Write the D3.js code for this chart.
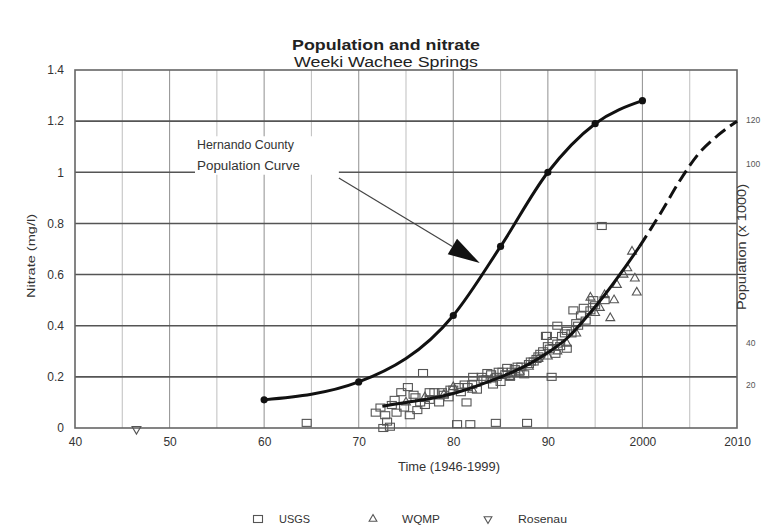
<!DOCTYPE html>
<html><head><meta charset="utf-8">
<script src="https://cdn.jsdelivr.net/npm/d3@7/dist/d3.min.js"></script>
<style>
body{margin:0;background:#fff;}
svg{display:block;font-family:"Liberation Sans",Arial,sans-serif;}
</style></head>
<body><svg id="c" width="764" height="530"></svg>
<script>
// ---------- data ----------
const xTicks = [40, 50, 60, 70, 80, 90, 100, 110];
const xTickLabels = ["40", "50", "60", "70", "80", "90", "2000", "2010"];
const yTicks = [0, 0.2, 0.4, 0.6, 0.8, 1, 1.2, 1.4];
const popTicks = [20, 40, 100, 120];
const popTickNitrateEq = [0.17, 0.335, 1.035, 1.205];

// Hernando County population curve (plotted in nitrate units)
const popYears = [60, 70, 80, 85, 90, 95, 100];
const popValues = [0.11, 0.18, 0.44, 0.71, 1.0, 1.19, 1.28];

// trend curve through nitrate data (solid) and projection (dashed)
const trendYears = [72.5, 75, 78, 80, 82, 84, 86, 88, 90, 92, 94, 96, 98, 99.7];
const trendValues = [0.085, 0.1, 0.118, 0.135, 0.158, 0.185, 0.215, 0.25, 0.295, 0.35, 0.43, 0.52, 0.62, 0.71];
const projYears = [99.7, 102, 104, 106, 108, 110];
const projValues = [0.71, 0.845, 0.97, 1.075, 1.145, 1.2];

const usgsYears = [64.5, 72.6, 73.3, 73.0, 80.4, 81.8, 84.5, 87.8, 81.4, 90.4, 76.8, 75.2, 71.8, 72.3, 74.0, 75.4,
  95.7, 72.8, 73.5, 74.5, 76.0, 77.5, 78.0, 79.0, 80.0, 80.8, 81.5, 82.0, 83.0, 83.5, 84.0, 84.8, 85.5, 86.0,
  86.5, 87.0, 87.5, 88.0, 88.5, 89.0, 89.5, 90.0, 90.5, 91.0, 91.5, 92.0, 92.5, 93.0, 93.5, 94.0, 94.5, 95.0,
  91.0, 89.8, 90.8, 92.0, 76.5, 77.0, 78.5, 79.5, 82.5, 84.2, 85.0, 96.0, 75.8, 73.8, 74.8, 76.2, 85.7, 83.6,
  82.1, 79.7, 77.5, 91.3, 92.7, 89.9, 93.8, 94.8, 88.8, 86.8,
  78.8, 80.6, 81.2, 83.2, 84.6, 85.2, 86.2, 87.2, 88.2, 89.2, 90.2, 91.8, 93.2];
const usgsValues = [0.02, 0.0, 0.005, 0.025, 0.015, 0.015, 0.02, 0.02, 0.1, 0.2, 0.215, 0.16, 0.06, 0.08, 0.06, 0.05,
  0.79, 0.05, 0.09, 0.14, 0.12, 0.11, 0.14, 0.13, 0.15, 0.14, 0.16, 0.17, 0.2, 0.19, 0.21, 0.22, 0.21, 0.2,
  0.23, 0.22, 0.21, 0.25, 0.26, 0.28, 0.3, 0.32, 0.34, 0.33, 0.36, 0.38, 0.37, 0.41, 0.44, 0.42, 0.46, 0.48,
  0.4, 0.36, 0.29, 0.31, 0.1, 0.09, 0.1, 0.12, 0.15, 0.17, 0.18, 0.5, 0.13, 0.11, 0.08, 0.07, 0.235, 0.215,
  0.2, 0.15, 0.14, 0.32, 0.46, 0.36, 0.47, 0.5, 0.27, 0.24,
  0.14, 0.16, 0.17, 0.19, 0.2, 0.22, 0.22, 0.24, 0.26, 0.29, 0.31, 0.37, 0.4];

const wqmpYears = [80, 82, 84, 86, 87, 88, 89, 90, 91, 92, 93, 94.5, 95.5, 96.6, 97.3, 98, 98.4, 99.2, 99.4, 98.9, 97, 96, 95, 77, 79, 75];
const wqmpValues = [0.16, 0.15, 0.19, 0.2, 0.22, 0.24, 0.27, 0.28, 0.3, 0.33, 0.37, 0.51, 0.47, 0.43, 0.56, 0.6, 0.625, 0.585, 0.53, 0.69, 0.5, 0.52, 0.45, 0.12, 0.13, 0.1];

const rosenauYears = [46.5];
const rosenauValues = [0.0];

const seriesNames = ["USGS", "WQMP", "Rosenau"];

// annotation anchors (data coords)
const annText = ["Hernando County", "Population Curve"];
const annTextPos = [[52.9, 1.09], [52.9, 1.01]];
const annArrowFrom = [67.9, 0.978];
const annArrowTo = [82.8, 0.645];

// ---------- drawing ----------
const svg = d3.select("#c");
const x = d3.scaleLinear().domain([40, 110]).range([75, 737]);
const y = d3.scaleLinear().domain([0, 1.4]).range([428, 70]);
const yPop = d3.scaleLinear().domain(popTicks).range(popTickNitrateEq.map(y));

// vertical gridlines every 5 years
const vg = d3.range(45, 110, 5);
svg.append("g").selectAll("line").data(vg).join("line")
  .attr("x1", d => x(d)).attr("x2", d => x(d)).attr("y1", y(1.4)).attr("y2", y(0))
  .attr("stroke", d => d % 10 === 0 ? "#9a9a9a" : "#c4c4c4").attr("stroke-width", 1.1);
// horizontal gridlines
svg.append("g").selectAll("line").data(yTicks.slice(1, -1)).join("line")
  .attr("x1", x(40)).attr("x2", x(110)).attr("y1", d => y(d)).attr("y2", d => y(d))
  .attr("stroke", "#555").attr("stroke-width", 1.6);
// frame
svg.append("rect").attr("x", x(40)).attr("y", y(1.4)).attr("width", x(110) - x(40)).attr("height", y(0) - y(1.4))
  .attr("fill", "none").attr("stroke", "#666").attr("stroke-width", 1.6);

// axes (labels only)
const xa = svg.append("g").attr("transform", `translate(0,${y(0) + 4})`)
  .call(d3.axisBottom(x).tickValues(xTicks).tickSize(0).tickFormat((d, i) => xTickLabels[i]));
xa.select(".domain").remove();
xa.selectAll("text").attr("font-size", 12).attr("fill", "#333").attr("font-family", "Liberation Sans, Arial").attr("dy", "0.9em");

const ya = svg.append("g").attr("transform", `translate(${x(40) - 8},0)`)
  .call(d3.axisLeft(y).tickValues(yTicks).tickSize(0).tickFormat(d3.format("~g")));
ya.select(".domain").remove();
ya.selectAll("text").attr("font-size", 12).attr("fill", "#333").attr("font-family", "Liberation Sans, Arial");

const ra = svg.append("g").attr("transform", `translate(${x(110) + 6},0)`)
  .call(d3.axisRight(yPop).tickValues(popTicks).tickSize(0));
ra.select(".domain").remove();
ra.selectAll("text").attr("font-size", 8.5).attr("fill", "#555").attr("font-family", "Liberation Sans, Arial");

// axis titles
svg.append("text").attr("x", 449).attr("y", 471).attr("text-anchor", "middle")
  .attr("font-size", 12).attr("fill", "#333")
  .attr("textLength", 102).attr("lengthAdjust", "spacingAndGlyphs").text("Time (1946-1999)");
svg.append("text").attr("transform", "translate(35,256) rotate(-90)").attr("text-anchor", "middle")
  .attr("font-size", 11.5).attr("fill", "#333")
  .attr("textLength", 84).attr("lengthAdjust", "spacingAndGlyphs").text("Nitrate (mg/l)");
svg.append("text").attr("transform", "translate(746,247) rotate(-90)").attr("text-anchor", "middle")
  .attr("font-size", 12).attr("fill", "#333")
  .attr("textLength", 126).attr("lengthAdjust", "spacingAndGlyphs").text("Population (x 1000)");

// titles
svg.append("text").attr("x", 386).attr("y", 50).attr("text-anchor", "middle")
  .attr("font-size", 14).attr("font-weight", "bold").attr("fill", "#222")
  .attr("textLength", 188).attr("lengthAdjust", "spacingAndGlyphs").text("Population and nitrate");
svg.append("text").attr("x", 386).attr("y", 67).attr("text-anchor", "middle")
  .attr("font-size", 14).attr("fill", "#222")
  .attr("textLength", 184).attr("lengthAdjust", "spacingAndGlyphs").text("Weeki Wachee Springs");

// data markers
const sq = svg.append("g");
sq.selectAll("rect").data(usgsYears.map((d, i) => [d, usgsValues[i]])).join("rect")
  .attr("x", d => x(d[0]) - 4.5).attr("y", d => y(d[1]) - 3.5).attr("width", 9).attr("height", 7)
  .attr("fill", "none").attr("stroke", "#555").attr("stroke-width", 1.1);

const tri = d3.symbol().type(d3.symbolTriangle).size(34);
svg.append("g").selectAll("path").data(wqmpYears.map((d, i) => [d, wqmpValues[i]])).join("path")
  .attr("d", tri).attr("transform", d => `translate(${x(d[0])},${y(d[1])})`)
  .attr("fill", "none").attr("stroke", "#555").attr("stroke-width", 1.1);

svg.append("g").selectAll("path").data(rosenauYears.map((d, i) => [d, rosenauValues[i]])).join("path")
  .attr("d", tri).attr("transform", d => `translate(${x(d[0])},${y(d[1]) + 1}) rotate(180)`)
  .attr("fill", "none").attr("stroke", "#555").attr("stroke-width", 1.1);

// curves
const line = d3.line().x(d => x(d[0])).y(d => y(d[1])).curve(d3.curveMonotoneX);
svg.append("path").datum(trendYears.map((d, i) => [d, trendValues[i]])).attr("d", line)
  .attr("fill", "none").attr("stroke", "#111").attr("stroke-width", 3);
svg.append("path").datum(projYears.map((d, i) => [d, projValues[i]])).attr("d", line)
  .attr("fill", "none").attr("stroke", "#111").attr("stroke-width", 3).attr("stroke-dasharray", "13,6");

const popPts = popYears.map((d, i) => [d, popValues[i]]);
svg.append("path").datum(popPts).attr("d", line)
  .attr("fill", "none").attr("stroke", "#111").attr("stroke-width", 3);
svg.append("g").selectAll("circle").data(popPts).join("circle")
  .attr("cx", d => x(d[0])).attr("cy", d => y(d[1])).attr("r", 3.6).attr("fill", "#111");

// annotation
const tx = x(annTextPos[0][0]);
svg.append("rect").attr("x", tx - 2).attr("y", y(annTextPos[0][1]) - 13)
  .attr("width", x(annArrowFrom[0]) - tx + 2).attr("height", y(annTextPos[1][1]) - y(annTextPos[0][1]) + 18)
  .attr("fill", "#fff");
const annLen = [97, 103];
annText.forEach((t, i) => {
  svg.append("text").attr("x", tx).attr("y", y(annTextPos[i][1])).attr("font-size", 12)
    .attr("fill", "#333").attr("textLength", annLen[i]).attr("lengthAdjust", "spacingAndGlyphs").text(t);
});
const ax0 = x(annArrowFrom[0]), ay0 = y(annArrowFrom[1]), ax1 = x(annArrowTo[0]), ay1 = y(annArrowTo[1]);
const len = Math.hypot(ax1 - ax0, ay1 - ay0), ux = (ax1 - ax0) / len, uy = (ay1 - ay0) / len;
const hl = 32, hw = 9;
const bx = ax1 - ux * hl, by = ay1 - uy * hl;
svg.append("line").attr("x1", ax0).attr("y1", ay0).attr("x2", bx).attr("y2", by)
  .attr("stroke", "#444").attr("stroke-width", 1.2);
svg.append("path").attr("d", `M${ax1},${ay1}L${bx - uy * hw},${by + ux * hw}L${bx + uy * hw},${by - ux * hw}Z`)
  .attr("fill", "#111");

// legend
const lg = svg.append("g").attr("transform", "translate(0,519)");
const legX = [258, 373, 488];
const legTX = [279, 402, 518];
const legLen = [31, 38, 49];
lg.append("rect").attr("x", legX[0] - 4.5).attr("y", -3.5).attr("width", 9).attr("height", 7)
  .attr("fill", "none").attr("stroke", "#555").attr("stroke-width", 1.1);
lg.append("path").attr("d", d3.symbol().type(d3.symbolTriangle).size(26)).attr("transform", `translate(${legX[1]},0)`)
  .attr("fill", "none").attr("stroke", "#555").attr("stroke-width", 1.1);
lg.append("path").attr("d", d3.symbol().type(d3.symbolTriangle).size(26)).attr("transform", `translate(${legX[2]},0) rotate(180)`)
  .attr("fill", "none").attr("stroke", "#555").attr("stroke-width", 1.1);
seriesNames.forEach((n, i) => {
  lg.append("text").attr("x", legTX[i]).attr("y", 4).attr("font-size", 11.5).attr("fill", "#333")
    .attr("textLength", legLen[i]).attr("lengthAdjust", "spacingAndGlyphs").text(n);
});
</script>
</body></html>
